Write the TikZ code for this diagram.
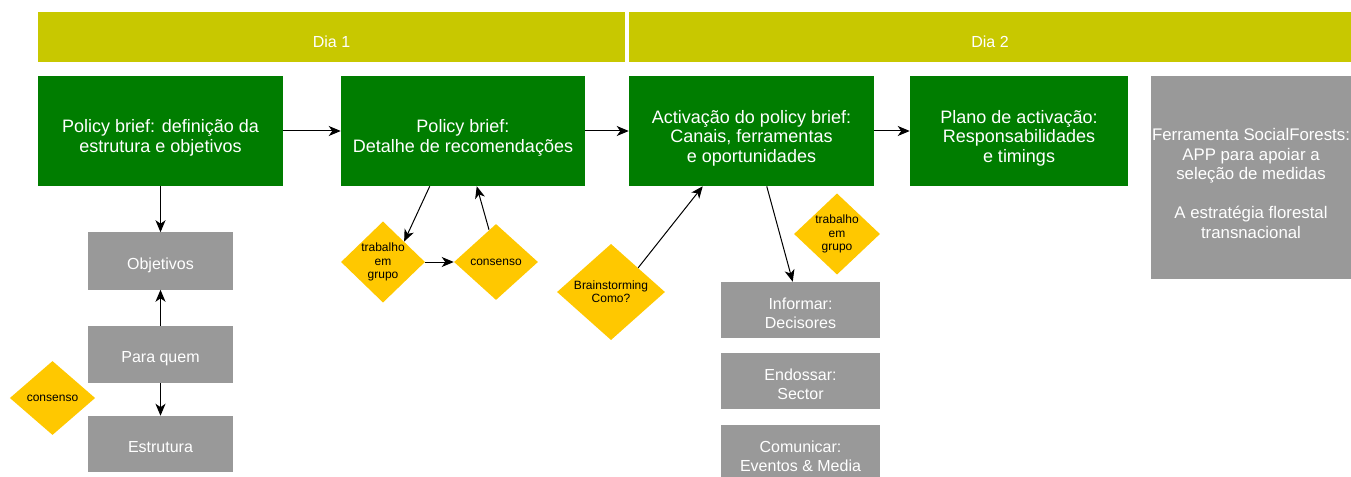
\documentclass[tikz,border=0pt]{standalone}
\usepackage{fontspec}
\setmainfont{Liberation Sans}
\usepackage{xcolor}
\usepackage{tikz}
\usetikzlibrary{shapes.geometric,arrows.meta,calc}

\definecolor{diabar}{RGB}{200,200,0}
\definecolor{folha}{RGB}{0,125,0}
\definecolor{cinza}{RGB}{153,153,153}
\definecolor{ouro}{RGB}{255,200,0}

% struts: push the text a little below the middle of its box
\newcommand{\sobe}[1]{\rule{0pt}{#1}}
\newcommand{\desce}{\rule[-3.5pt]{0pt}{0pt}}

\begin{document}
\begin{tikzpicture}[x=0.75pt, y=-0.75pt,
	dia/.style={fill=diabar, text=white, minimum height=37.5pt, inner sep=0pt, font=\fontsize{12}{14}\selectfont},
	passo/.style={fill=folha, text=white, minimum height=82.5pt, minimum width=183.75pt, inner sep=0pt, align=center, font=\fontsize{13.5}{14.8}\selectfont},
	caixa/.style={fill=cinza, text=white, minimum width=108.75pt, minimum height=42.75pt, inner sep=0pt, align=center, font=\fontsize{12}{14.4}\selectfont},
	losango/.style={diamond, fill=ouro, text=black, inner sep=0pt, minimum width=63pt, minimum height=57pt, align=center, font=\fontsize{9}{10}\selectfont},
	seta/.style={-{Stealth[length=9pt,width=7.5pt,inset=2.6pt]}, black, line width=0.75pt}]
				\useasboundingbox (0,0) rectangle (1351,477);

				% dias
				\node[dia, minimum width=440.25pt] (dia1) at (331.5,37) {\sobe{19.6pt}Dia 1\desce};
				\node[dia, minimum width=541.5pt] (dia2) at (990,37) {\sobe{19.6pt}Dia 2\desce};

				% passos
				\node[passo] (def) at (160.5,131) {\sobe{21.2pt}Policy brief: definição da\\estrutura e objetivos\desce};
				\node[passo, minimum width=183pt] (detalhe) at (463,131) {\sobe{21.2pt}Policy brief:\\Detalhe de recomendações\desce};
				\node[passo] (activ) at (751.5,131) {\sobe{21.2pt}Activação do policy brief:\\Canais, ferramentas\\e oportunidades\desce};
				\node[passo, minimum width=163.5pt] (plano) at (1019,131) {\sobe{21.2pt}Plano de activação:\\Responsabilidades\\e timings\desce};
				\node[caixa, minimum width=150pt, minimum height=152.25pt, font=\fontsize{12.6}{14.6}\selectfont] (ferram) at (1251,177.5)
					{\sobe{21.5pt}Ferramenta SocialForests:\\APP para apoiar a\\seleção de medidas\\[14.6pt]A estratégia florestal\\transnacional\desce};

				% dia 1, coluna
				\node[caixa] (obj) at (160.5,261) {\sobe{16.1pt}Objetivos\desce};
				\node[caixa] (para) at (160.5,354.5) {\sobe{16.1pt}Para quem\desce};
				\node[caixa, minimum height=42pt] (estr) at (160.5,444) {\sobe{16.1pt}Estrutura\desce};
				\node[losango, minimum width=64pt, minimum height=55.5pt] (cons1) at (52.5,398) {consenso};

				\node[losango] (trab1) at (383,262) {trabalho\\em\\grupo};
				\node[losango] (cons2) at (496,262) {consenso};

				% dia 2, coluna
				\node[losango, minimum width=81pt, minimum height=69pt] (brain) at (611,292) {Brainstorming\\Como?};
				\node[losango, minimum width=64.5pt] (trab2) at (837,234) {trabalho\\em\\grupo};
				\node[caixa, minimum width=119.25pt, minimum height=42pt] (inf) at (800.5,310) {\sobe{17.3pt}Informar:\\Decisores\desce};
				\node[caixa, minimum width=119.25pt, minimum height=42pt] (endo) at (800.5,381) {\sobe{17.3pt}Endossar:\\Sector\desce};
				\node[caixa, minimum width=119.25pt, minimum height=42pt] (comu) at (800.5,453) {\sobe{17.3pt}Comunicar:\\Eventos \& Media\desce};

				\draw[seta] (def) -- (detalhe);
				\draw[seta] (detalhe) -- (activ);
				\draw[seta] (activ) -- (plano);

				\draw[seta] (def.south) -- (obj.north);
				\draw[seta] (para.north) -- (obj.south);
				\draw[seta] (para.south) -- (estr.north);

				\draw[seta] ($(detalhe.south west)+(89,0)$) -- (trab1.north east);
				\draw[seta] (trab1.east) -- (cons2.west);
				\draw[seta] ($(cons2.north)+(-7,6)$) -- ($(detalhe.south west)+(136,0)$);

				\draw[seta] (brain.north east) -- ($(activ.south west)+(74,0)$);
				\draw[seta] ($(activ.south west)+(138,0)$) -- ($(inf.north west)+(72,0)$);

			\end{tikzpicture}
\end{document}
